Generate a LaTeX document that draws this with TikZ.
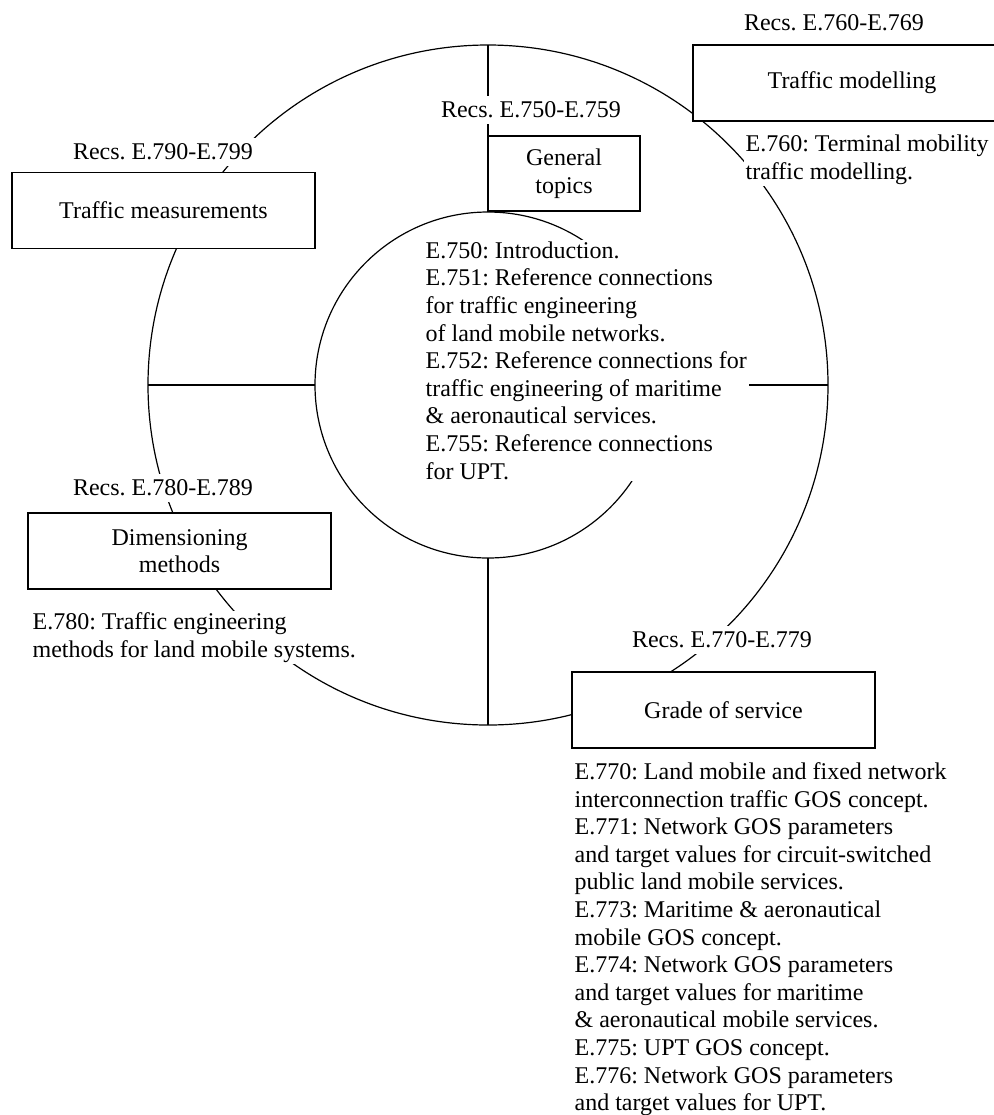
\documentclass[tikz,border=0pt]{standalone}
\usepackage{fontspec}
\setmainfont{Liberation Serif}
\frenchspacing
\tikzset{
  area/.style={draw, line width=0.8pt, fill=white, align=center, minimum width=151.5pt, minimum height=38pt, inner sep=0pt},
  recs/.style={fill=white, inner sep=3pt},
  notes/.style={fill=white, align=left, inner sep=1pt},
}
\begin{document}
\begin{tikzpicture}[x=0.5pt, y=-0.5pt, font=\fontsize{12}{13.8}\selectfont, line width=0.6pt]
	\useasboundingbox (0,0) rectangle (993,1115);
	\coordinate (c) at (488,385);
	% rings and spokes
	\draw (c) circle[radius=170pt];
	\draw (c) circle[radius=86.5pt];
	\coordinate (outN) at (488,45);  \coordinate (inN) at (488,212);
	\coordinate (outS) at (488,725); \coordinate (inS) at (488,558);
	\coordinate (outW) at (148,385); \coordinate (inW) at (315,385);
	\coordinate (outE) at (828,385); \coordinate (inE) at (661,385);
	\draw (outN)--(inN);
	\draw (outS)--(inS);
	\draw (outW)--(inW);
	\draw (outE)--(inE);
	% general topics
	\node[area, minimum width=76pt, minimum height=37.5pt] (general) at (564,173.5) {General\\topics};
	\node[recs] (generalrecs) at (531,110) {Recs. E.750-E.759};
	\node[notes, anchor=north west] (generalnotes) at (423,239) {E.750: Introduction.\\E.751: Reference connections\\for traffic engineering\\of land mobile networks.\\E.752: Reference connections for\\traffic engineering of maritime\\\& aeronautical services.\\E.755: Reference connections\\for UPT.};
	% traffic modelling
	\node[area, minimum width=159pt] (modelling) at (852,83) {Traffic modelling};
	\node[recs] (modellingrecs) at (834,23) {Recs. E.760-E.769};
	\node[notes, anchor=south west] (modellingnotes) at (743,187) {E.760: Terminal mobility\\traffic modelling.};
	% traffic measurements
	\node[area] (measure) at (163.5,210.5) {Traffic measurements};
	\node[recs] (measurerecs) at (163,152) {Recs. E.790-E.799};
	% dimensioning
	\node[area] (dimension) at (179.5,551) {Dimensioning\\methods};
	\node[recs] (dimensionrecs) at (163,488) {Recs. E.780-E.789};
	\node[notes, anchor=north west] (dimensionnotes) at (30,610) {E.780: Traffic engineering\\methods for land mobile systems.};
	% grade of service
	\node[area] (grade) at (723.5,710) {Grade of service};
	\node[recs] (graderecs) at (722,640) {Recs. E.770-E.779};
	\node[notes, anchor=north west] (gradenotes) at (572,760) {E.770: Land mobile and fixed network\\interconnection traffic GOS concept.\\E.771: Network GOS parameters\\and target values for circuit-switched\\public land mobile services.\\E.773: Maritime \& aeronautical\\mobile GOS concept.\\E.774: Network GOS parameters\\and target values for maritime\\\& aeronautical mobile services.\\E.775: UPT GOS concept.\\E.776: Network GOS parameters\\and target values for UPT.};
\end{tikzpicture}
\end{document}
